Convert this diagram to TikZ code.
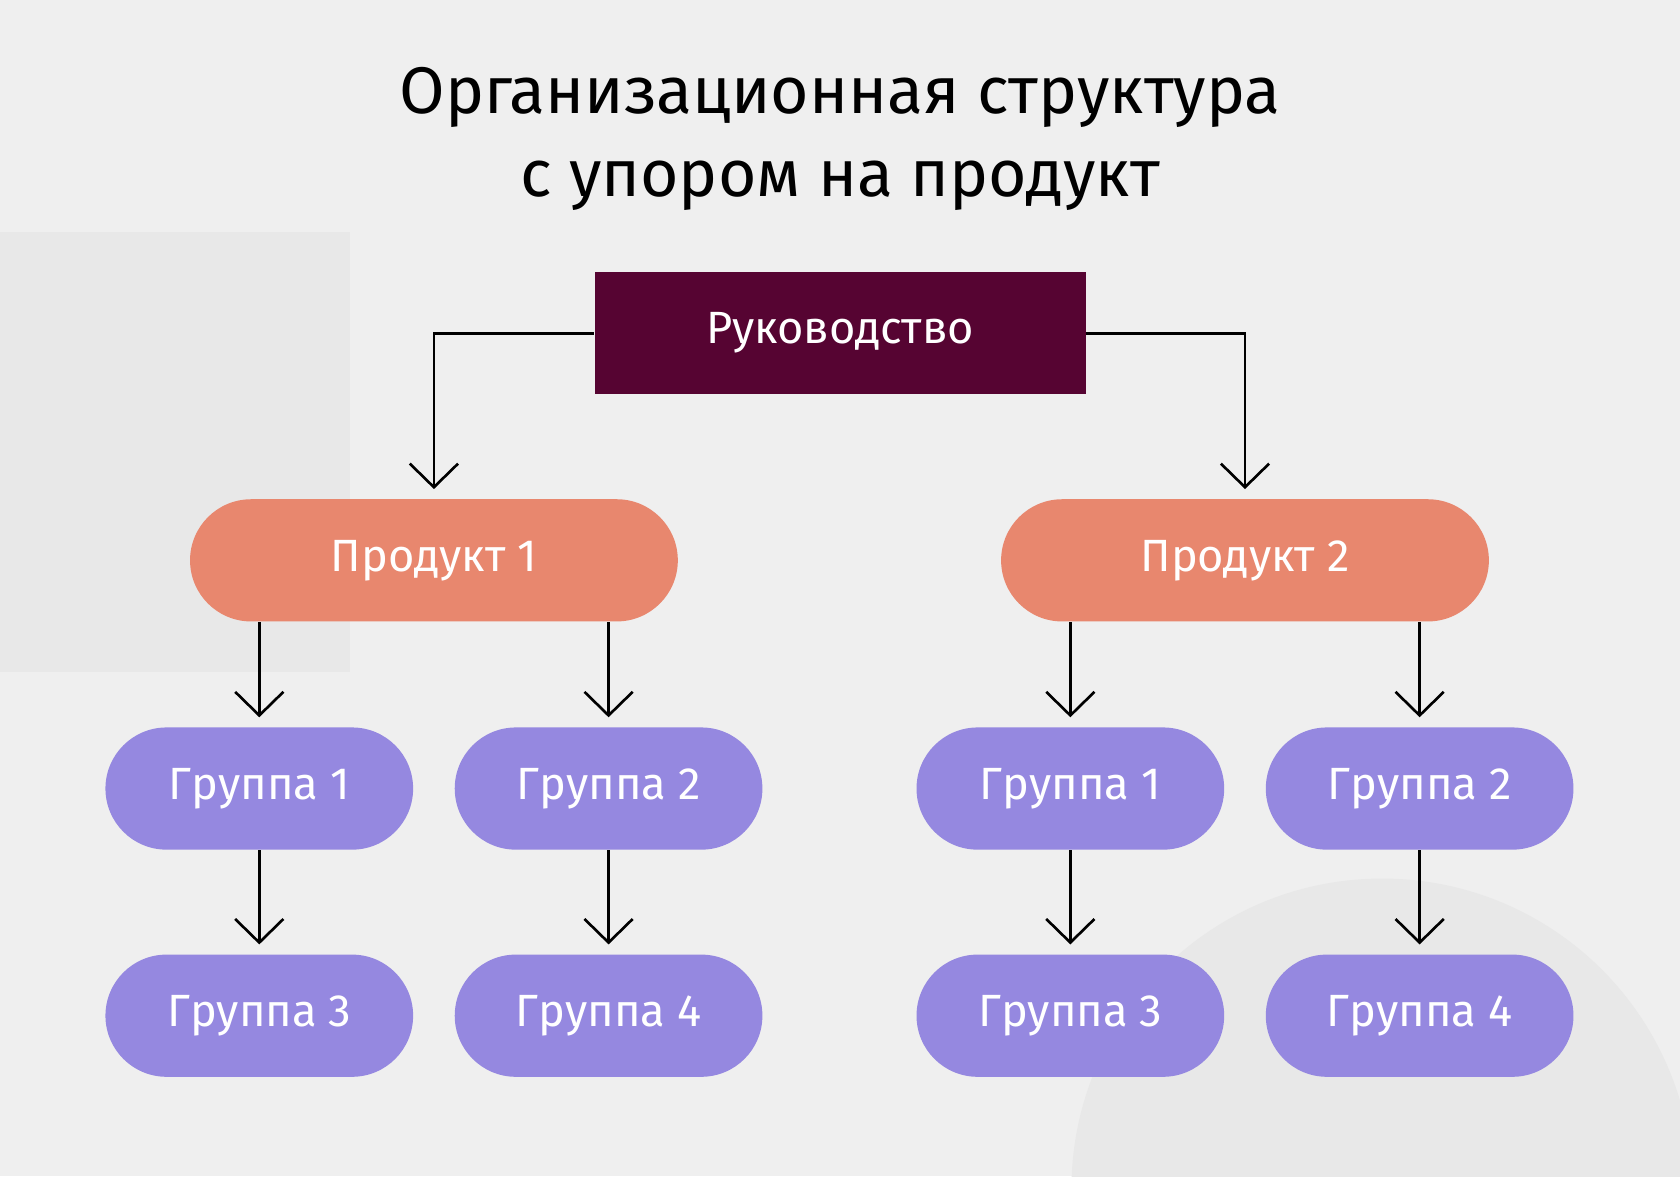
\documentclass[tikz,border=0pt]{standalone}
\usepackage{fontspec}
\setmainfont{Fira Sans}
\usetikzlibrary{arrows.meta}
\definecolor{bgc}{HTML}{EFEFEF}
\definecolor{lead}{HTML}{560432}
\definecolor{prod}{HTML}{E8876E}
\definecolor{grp}{HTML}{9588E0}
\begin{document}
\begin{tikzpicture}[
  x=0.01cm, y=-0.01cm,
  every node/.style={text=white, align=center, font=\fontsize{12}{14}\selectfont},
  leadbox/.style={fill=lead, minimum width=4.58cm, minimum height=1.14cm},
  prodbox/.style={fill=prod, rounded corners=0.57cm, minimum width=4.55cm, minimum height=1.14cm},
  grpbox/.style={fill=grp, rounded corners=0.57cm, minimum width=2.87cm, minimum height=1.14cm},
  link/.style={draw=black, line width=0.7pt, -{Straight Barb[width=4.5mm,length=2.2mm]}}
]
\fill[bgc] (0,0) rectangle (1568,1098);
\fill[gray!18] (0,217) rectangle (327,627);
\begin{scope}
\clip (0,0) rectangle (1568,1098);
\fill[gray!18] (1290,1110) circle (290);
\end{scope}
\useasboundingbox (0,0) rectangle (1568,1098);

\node[text=black, font=\fontsize{17.5}{22}\selectfont] (title) at (784,130)
  {Организационная структура\\с упором на продукт};

\node[leadbox] (lead) at (784,311) {Руководство};
\node[prodbox] (p1) at (405,523) {Продукт 1};
\node[prodbox] (p2) at (1162,523) {Продукт 2};

% группы
\foreach \name/\x/\y/\t in {a1/242/736/1, a2/568/736/2, a3/242/948/3, a4/568/948/4,
                            b1/999/736/1, b2/1325/736/2, b3/999/948/3, b4/1325/948/4}
  \node[grpbox] (\name) at (\x,\y) {Группа \t};

\draw[link] (lead.west) -| ([yshift=2.5pt]p1.north);
\draw[link] (lead.east) -| ([yshift=2.5pt]p2.north);
\foreach \p/\g in {p1/a1, p1/a2, p2/b1, p2/b2}
  \draw[link] (\p.south -| \g) -- ([yshift=2.5pt]\g.north);
\foreach \u/\l in {a1/a3, a2/a4, b1/b3, b2/b4}
  \draw[link] (\u.south) -- ([yshift=2.5pt]\l.north);
\end{tikzpicture}
\end{document}
